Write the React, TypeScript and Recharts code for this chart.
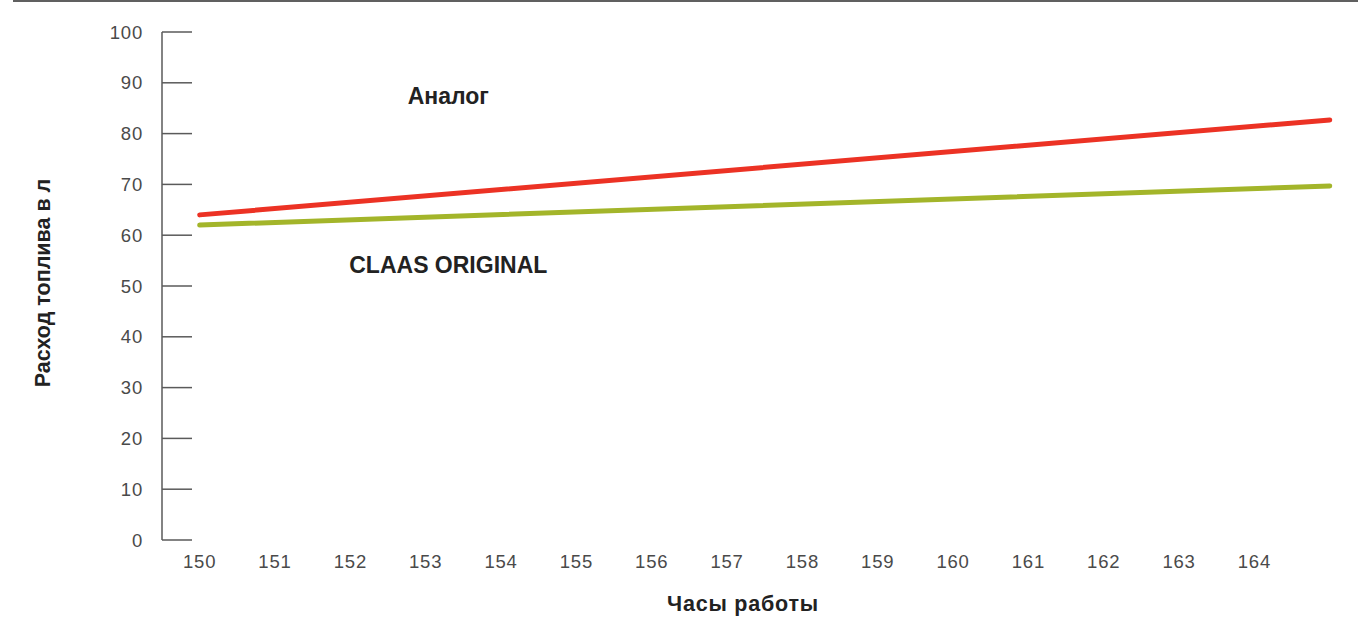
import { LineChart, Line, XAxis, YAxis, ReferenceDot } from "recharts"

const hours = [150, 165]
const analogFuel = [64, 82.7]
const originalFuel = [62, 69.7]

const yTicks = [0, 10, 20, 30, 40, 50, 60, 70, 80, 90, 100]
const hourLabels = [150, 151, 152, 153, 154, 155, 156, 157, 158, 159, 160, 161, 162, 163, 164]
const hourMarks = [150.5, 151.5, 152.5, 153.5, 154.5, 155.5, 156.5, 157.5, 158.5, 159.5, 160.5, 161.5, 162.5, 163.5, 164.5]

const data = hours.map((h, i) => ({ hour: h, analog: analogFuel[i], original: originalFuel[i] }))

const FONT = "'Liberation Sans', Arial, sans-serif"
const AXIS = "#5a5a5a"
const TEXT = "#4a4a4a"

function YTick(props: any) {
    const { x, y, payload } = props
    return (
        <g>
            <text x={x} y={y} dy="0.36em" textAnchor="end" fontSize={18.5} letterSpacing={0.8} fill={TEXT} fontFamily={FONT}>
                {payload.value}
            </text>
            <line x1={x + 19} x2={x + 49} y1={y} y2={y} stroke={AXIS} strokeWidth={1.5} />
        </g>
    )
}

function XMark(props: any) {
    const { x, y } = props
    return <line x1={x} x2={x} y1={y} y2={y - 13} stroke={AXIS} strokeWidth={1.5} />
}

function YTitle(props: any) {
    const { viewBox } = props
    const cy = viewBox.y + viewBox.height / 2 - 3
    return (
        <text x={43} y={cy} transform={`rotate(-90 43 ${cy})`} textAnchor="middle" dominantBaseline="central"
            fontSize={21.5} fontWeight={700} fill="#222" fontFamily={FONT}>
            Расход топлива в л
        </text>
    )
}

function XTitle(props: any) {
    const { viewBox } = props
    const cx = viewBox.x + viewBox.width / 2 - 17
    return (
        <text x={cx} y={611} textAnchor="middle"
            fontSize={21.5} letterSpacing={0.8} fontWeight={700} fill="#222" fontFamily={FONT}>
            Часы работы
        </text>
    )
}

function Note(text: string) {
    return (props: any) => {
        const { viewBox } = props
        return (
            <text x={viewBox.x} y={viewBox.y} textAnchor="middle" dominantBaseline="central"
                fontSize={23} fontWeight={700} fill="#222" fontFamily={FONT}>
                {text}
            </text>
        )
    }
}

export default function App() {
    return (
        <div style={{ position: "absolute", left: 0, top: 0, width: 1358, height: 617, background: "#fff" }}>
            <div style={{ position: "absolute", left: 13, top: 0, width: 1345, height: 2, background: "#606060" }} />
            <LineChart width={1358} height={617} data={data} margin={{ top: 32, right: 0, left: 0, bottom: 0 }}>
                <XAxis xAxisId="marks" dataKey="hour" type="number" domain={[149.5, 165.375]} ticks={hourMarks}
                    interval={0} height={0} tickSize={0} tickMargin={0} tickLine={false}
                    axisLine={{ stroke: AXIS, strokeWidth: 1.5 }} tick={<XMark />} />
                <XAxis xAxisId="labels" dataKey="hour" type="number" domain={[149.5, 165.375]} ticks={hourLabels}
                    interval={0} height={77} tickSize={0} tickMargin={15} tickLine={false} axisLine={false}
                    tick={{ fontSize: 18.5, letterSpacing: 0.8, fill: TEXT, fontFamily: FONT }} label={<XTitle />} />
                <YAxis type="number" domain={[0, 100]} ticks={yTicks} interval={0} width={162}
                    tickSize={0} tickMargin={19} tickLine={false}
                    axisLine={{ stroke: AXIS, strokeWidth: 1.5 }} tick={<YTick />} label={<YTitle />} />
                <Line xAxisId="marks" dataKey="analog" stroke="#ec3224" strokeWidth={5} strokeLinecap="round"
                    dot={false} activeDot={false} isAnimationActive={false} />
                <Line xAxisId="marks" dataKey="original" stroke="#a3b52a" strokeWidth={5} strokeLinecap="round"
                    dot={false} activeDot={false} isAnimationActive={false} />
                <ReferenceDot xAxisId="marks" x={153.3} y={87.4} r={0} label={Note("Аналог")} />
                <ReferenceDot xAxisId="marks" x={153.3} y={54.1} r={0} label={Note("CLAAS ORIGINAL")} />
            </LineChart>
        </div>
    )
}
